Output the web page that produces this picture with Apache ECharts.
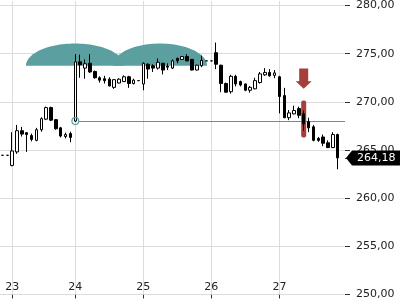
<!DOCTYPE html>
<html><head><meta charset="utf-8">
<script src="https://cdn.jsdelivr.net/npm/echarts@6/dist/echarts.min.js"></script>
<style>html,body{margin:0;padding:0;background:#fff}#c{width:400px;height:300px}</style>
</head><body><div id="c"></div>
<script>
// ---- data ----
const days = ['22', '23', '24', '25', '26', '27'];
const barsPerDay = [2, 13, 14, 14, 14, 14]; // last day keeps one empty slot
// candles: [open, close, low, high]
const ohlc = [
  [264.45,264.45,264.45,264.45],[264.45,264.45,264.45,264.45],
  [263.4,264.9,263.3,266.85],[264.8,267.0,264.6,267.6],[267.0,266.65,266.4,267.4],
  [266.8,266.6,264.8,266.85],[266.5,266.1,265.9,266.7],[266.0,267.1,265.9,267.3],
  [267.1,268.25,266.9,268.4],[268.2,269.4,268.1,269.5],[269.4,268.1,268.0,269.5],
  [268.15,267.2,267.1,268.2],[267.3,266.45,266.3,267.4],[266.4,266.6,266.2,266.8],
  [266.7,266.3,265.8,266.9],
  [268.0,274.15,267.9,274.95],[274.15,273.85,272.5,274.9],[273.5,273.95,272.4,274.4],
  [274.0,273.1,273.0,274.95],[273.15,272.5,272.4,273.25],[272.5,272.25,272.0,272.65],
  [272.4,272.2,271.9,272.7],[272.35,271.65,271.6,272.55],[271.5,272.3,271.35,272.35],
  [271.95,272.35,271.9,272.45],[272.1,272.6,272.05,272.75],[272.6,271.9,271.45,272.7],
  [271.9,272.25,271.8,272.4],[272.2,272.2,272.2,272.2],
  [271.85,274.0,271.2,274.1],[273.9,273.4,272.4,274.0],[273.75,273.5,273.1,273.9],
  [273.5,274.1,273.35,274.5],[274.0,273.3,272.85,274.05],[273.7,273.6,273.3,274.0],
  [273.5,274.25,273.4,274.4],[274.5,274.25,274.0,274.6],[274.4,274.7,274.35,274.75],
  [274.7,274.25,274.2,274.95],[274.4,273.3,273.25,274.45],[273.3,273.8,273.25,273.85],
  [273.75,274.3,273.6,274.8],[274.25,274.25,274.25,274.25],
  [274.25,274.25,274.25,274.25],[275.1,273.9,273.4,276.15],[273.8,271.9,271.0,273.85],
  [271.9,271.0,270.95,272.0],[271.05,272.65,270.85,272.8],[272.65,271.85,271.6,272.8],
  [272.1,271.75,271.6,272.2],[271.85,271.2,271.1,271.9],[271.2,271.5,270.95,271.65],
  [271.35,272.2,271.3,272.5],[272.0,272.9,271.9,273.1],[272.8,273.05,272.7,273.5],
  [273.05,272.7,272.6,273.4],[272.75,273.0,272.45,273.3],
  [272.6,270.55,268.8,272.7],[270.65,268.35,268.3,271.45],[268.35,268.85,268.1,269.15],
  [268.75,269.1,268.7,269.6],[269.3,268.6,268.3,269.5],[268.75,267.7,267.0,269.1],
  [267.95,267.3,266.85,268.35],[267.4,266.0,265.9,267.6],[266.2,266.0,265.85,266.35],
  [266.35,265.7,265.4,266.6],[265.75,265.25,265.2,266.0],[265.25,266.6,265.2,266.85],
  [266.6,264.18,263.0,266.7]
];
const yTicks = [250, 255, 260, 265, 270, 275, 280];
const yMin = 250, yMax = 280.44;
const lastPrice = [69, 264.18];
const support = [15, 268.0];                 // start bar, level
const humps = [[4.85, 25.0, 273.75, 276.05], [22.75, 42.1, 273.75, 276.05]]; // fromBar, toBar, base, top
const signalBar = [62, 266.3, 270.13];       // bar, low, high
const signalArrow = [62, 271.35, 273.45];    // bar, tip, tail

// ---- build ----
const categories = [];
const dayStarts = [];
days.forEach((d, di) => {
  if (di > 0) dayStarts.push(categories.length);
  for (let k = 0; k < barsPerDay[di]; k++) categories.push(d + '|' + k);
});
const startSet = new Set(dayStarts);
const fmt = v => Number(v).toFixed(2).replace('.', ',');
const teal = '#5b9fa1', red = '#a43f3a', grid = '#dcdcdc';
function xAt(api, v) { return api.coord([0, yMin])[0] + v * api.size([1, 0])[0]; }

const chart = echarts.init(document.getElementById('c'));
chart.setOption({
  animation: false,
  textStyle: { fontFamily: 'DejaVu Sans' },
  grid: { left: 0, right: 55, top: 0, bottom: 4.3 },
  xAxis: {
    type: 'category', data: categories, boundaryGap: true,
    axisLine: { show: false },
    axisTick: { show: true, alignWithLabel: true, interval: i => startSet.has(i), length: 4, lineStyle: { color: '#333' } },
    axisLabel: { inside: true, interval: i => startSet.has(i), formatter: v => v.split('|')[0], fontSize: 11, color: '#222', margin: 2 },
    splitLine: { show: false }
  },
  yAxis: {
    type: 'value', position: 'right', min: yMin, max: yMax,
    axisLine: { show: false },
    axisTick: { show: true, length: 5, customValues: yTicks, lineStyle: { color: '#333' } },
    axisLabel: { customValues: yTicks, formatter: fmt, fontSize: 11, color: '#222', margin: 11 },
    splitLine: { show: true, lineStyle: { color: grid } }
  },
  series: [
    { type: 'custom', z: 1, silent: true, data: dayStarts.map(i => [i, 260]),
      renderItem: (p, api) => {
        const cs = p.coordSys;
        const x = Math.round(api.coord([api.value(0), 260])[0]) + 0.5;
        return { type: 'line', shape: { x1: x, y1: cs.y, x2: x, y2: cs.y + cs.height }, style: { stroke: grid, lineWidth: 1 } };
      } },
    { type: 'custom', z: 2, silent: true, data: humps.map(h => [Math.round(h[0]), h[2]]),
      renderItem: (p, api) => {
        const h = humps[p.dataIndex];
        const x0 = xAt(api, h[0]), x1 = xAt(api, h[1]);
        const yb = api.coord([0, h[2]])[1], yt = api.coord([0, h[3]])[1];
        const cx = (x0 + x1) / 2, a = (x1 - x0) / 2, b = yb - yt;
        const pts = [];
        for (let k = 0; k <= 60; k++) { const t = Math.PI * k / 60; pts.push([cx - a * Math.cos(t), yb - b * Math.sin(t)]); }
        return { type: 'polygon', shape: { points: pts }, style: { fill: teal } };
      } },
    { type: 'custom', z: 3, silent: true, data: [support],
      renderItem: (p, api) => {
        const cs = p.coordSys;
        const pt = api.coord([api.value(0), api.value(1)]);
        const y = Math.round(pt[1]) + 0.5;
        return { type: 'line', shape: { x1: pt[0] + 3.5, y1: y, x2: cs.x + cs.width, y2: y }, style: { stroke: '#5a9696', lineWidth: 1 } };
      } },
    { type: 'custom', z: 4, silent: true, data: [signalBar],
      renderItem: (p, api) => {
        const x = api.coord([api.value(0), 0])[0];
        const y1 = api.coord([api.value(0), api.value(2)])[1], y2 = api.coord([api.value(0), api.value(1)])[1];
        return { type: 'rect', shape: { x: x - 2.5, y: y1, width: 5, height: y2 - y1, r: 2 }, style: { fill: red } };
      } },
    { type: 'candlestick', z: 5, data: ohlc, barWidth: 3,
      itemStyle: { color: '#fff', color0: '#000', borderColor: '#000', borderColor0: '#000', borderColorDoji: '#000', borderWidth: 1 } },
    { type: 'custom', z: 6, silent: true, data: [support],
      renderItem: (p, api) => {
        const pt = api.coord([api.value(0), api.value(1)]);
        return { type: 'circle', shape: { cx: pt[0], cy: pt[1], r: 3.4 }, style: { fill: 'none', stroke: teal, lineWidth: 1.2 } };
      } },
    { type: 'custom', z: 7, silent: true, data: [signalArrow],
      renderItem: (p, api) => {
        const x = api.coord([api.value(0), 0])[0];
        const yt = api.coord([api.value(0), api.value(1)])[1], ys = api.coord([api.value(0), api.value(2)])[1];
        const hl = 7.5, sw = 4.5, hw = 8;
        return { type: 'polygon', shape: { points: [[x - sw, ys], [x + sw, ys], [x + sw, yt - hl], [x + hw, yt - hl], [x, yt], [x - hw, yt - hl], [x - sw, yt - hl]] }, style: { fill: red } };
      } },
    { type: 'custom', z: 10, clip: false, silent: true, data: [lastPrice],
      renderItem: (p, api) => {
        const cs = p.coordSys;
        const y = api.coord([api.value(0), api.value(1)])[1];
        const xr = cs.x + cs.width;
        return { type: 'group', children: [
          { type: 'line', shape: { x1: xr, y1: Math.round(y) + 0.5, x2: xr + 5, y2: Math.round(y) + 0.5 }, style: { stroke: '#333', lineWidth: 1 } },
          { type: 'polygon', shape: { points: [[xr + 1, y], [xr + 7, y - 7.5], [xr + 60, y - 7.5], [xr + 60, y + 7.5], [xr + 7, y + 7.5]] }, style: { fill: '#000' } },
          { type: 'text', style: { x: xr + 12, y: y, text: fmt(api.value(1)), fill: '#fff', font: '11px DejaVu Sans', align: 'left', verticalAlign: 'middle' } }
        ] };
      } }
  ]
});
</script>
</body></html>
